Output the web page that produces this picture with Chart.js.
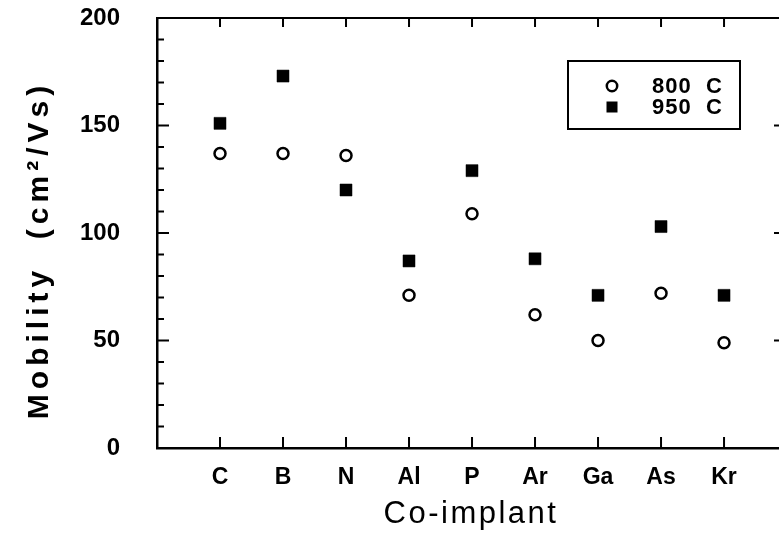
<!DOCTYPE html>
<html>
<head>
<meta charset="utf-8">
<script src="https://cdn.jsdelivr.net/npm/chart.js@4/dist/chart.umd.min.js"></script>
<style>
  html, body { margin: 0; padding: 0; background: #fff; overflow: hidden; }
  #wrap { width: 779px; height: 542px; overflow: hidden; position: relative; }
  canvas { display: block; }
</style>
</head>
<body>
<div id="wrap"><canvas id="chart" width="786" height="542"></canvas></div>
<script>
// Hall mobility after co-implantation, two anneal temperatures
const categories = ['C', 'B', 'N', 'Al', 'P', 'Ar', 'Ga', 'As', 'Kr'];
const mobility800 = [137, 137, 136, 71, 109, 62, 50, 72, 49];
const mobility950 = [151, 173, 120, 87, 129, 88, 71, 103, 71];
const yTickValues = [0, 50, 100, 150, 200];
const seriesLabels = ['800  C', '950  C'];

const FONT = "'Liberation Sans', Arial, Helvetica, sans-serif";
const X_MAX = 9.92;

const toPoints = vals => vals.map((v, i) => ({ x: i + 1, y: v }));

// fixed axis box sizes so the plot frame sits where it should
const fixBox = (size) => s => {
  if (s.isHorizontal()) s.height = size; else s.width = size;
  s.paddingTop = 0; s.paddingBottom = 0; s.paddingLeft = 0; s.paddingRight = 0;
};

// Inward tick marks on all four sides, axis titles and the boxed key
const framePlugin = {
  id: 'frame',
  afterDraw(chart) {
    const ctx = chart.ctx;
    const a = chart.chartArea;
    const x = chart.scales.x;
    const y = chart.scales.y;
    ctx.save();
    ctx.strokeStyle = '#000';
    ctx.lineCap = 'butt';

    // left axis: minor every 10, major every 50
    ctx.lineWidth = 2;
    for (let v = 0; v <= 200; v += 10) {
      const py = y.getPixelForValue(v);
      const len = v % 50 === 0 ? 12 : 7;
      ctx.beginPath();
      ctx.moveTo(a.left, py);
      ctx.lineTo(a.left + len, py);
      ctx.stroke();
    }
    // right axis: major only
    yTickValues.forEach(v => {
      if (v === 0 || v === 200) return;
      const py = y.getPixelForValue(v);
      ctx.beginPath();
      ctx.moveTo(a.right, py);
      ctx.lineTo(a.right - 8, py);
      ctx.stroke();
    });
    // bottom and top axes: one tick per co-implant
    categories.forEach((c, i) => {
      const px = x.getPixelForValue(i + 1);
      ctx.beginPath();
      ctx.moveTo(px, a.bottom);
      ctx.lineTo(px, a.bottom - 11);
      ctx.moveTo(px, a.top);
      ctx.lineTo(px, a.top + 9);
      ctx.stroke();
    });

    // key
    const bx = 568, by = 61, bw = 172, bh = 68;
    ctx.lineWidth = 2;
    ctx.strokeRect(bx, by, bw, bh);
    const rows = [86, 107];
    chart.data.datasets.forEach((ds, i) => {
      const cy = rows[i];
      const cx = 612;
      ctx.beginPath();
      if (ds.pointStyle === 'circle') {
        ctx.lineWidth = 2.5;
        ctx.fillStyle = '#fff';
        ctx.arc(cx, cy, 5.2, 0, Math.PI * 2);
        ctx.fill();
        ctx.stroke();
      } else {
        ctx.fillStyle = '#000';
        ctx.fillRect(cx - 5.5, cy - 5.5, 11, 11);
      }
      ctx.fillStyle = '#000';
      ctx.font = `bold 22px ${FONT}`;
      ctx.letterSpacing = '1px';
      ctx.textAlign = 'left';
      ctx.textBaseline = 'middle';
      ctx.fillText(ds.label, 652, cy + 1);
    });

    // axis titles
    ctx.fillStyle = '#000';
    ctx.textAlign = 'center';
    ctx.textBaseline = 'middle';
    ctx.font = `31px ${FONT}`;
    ctx.letterSpacing = '2.5px';
    ctx.fillText('Co-implant', 471, 514);

    ctx.save();
    ctx.translate(40, 250);
    ctx.rotate(-Math.PI / 2);
    ctx.font = `bold 30px ${FONT}`;
    ctx.letterSpacing = '5px';
    ctx.fillText('Mobility  (cm\u00B2/Vs)', 0, 0);
    ctx.restore();

    ctx.restore();
  }
};

new Chart(document.getElementById('chart'), {
  type: 'scatter',
  data: {
    datasets: [
      {
        label: seriesLabels[0],
        data: toPoints(mobility800),
        pointStyle: 'circle',
        pointRadius: 5.5,
        pointHoverRadius: 5.5,
        pointBorderWidth: 2.5,
        pointBackgroundColor: '#fff',
        pointBorderColor: '#000'
      },
      {
        label: seriesLabels[1],
        data: toPoints(mobility950),
        pointStyle: 'rect',
        pointRadius: 8.5,
        pointHoverRadius: 8.5,
        pointBorderWidth: 0.5,
        pointBackgroundColor: '#000',
        pointBorderColor: '#000'
      }
    ]
  },
  options: {
    responsive: false,
    animation: false,
    layout: { padding: 0, autoPadding: false },
    plugins: {
      legend: { display: false },
      tooltip: { enabled: false }
    },
    scales: {
      x: {
        type: 'linear',
        position: 'bottom',
        min: 0,
        max: X_MAX,
        afterFit: fixBox(94),
        afterBuildTicks: s => { s.ticks = categories.map((c, i) => ({ value: i + 1 })); },
        ticks: {
          autoSkip: false,
          maxRotation: 0,
          padding: 8,
          color: '#000',
          font: { family: FONT, size: 23, weight: 'bold' },
          callback: v => categories[v - 1] || ''
        },
        grid: { display: false },
        border: { display: true, color: '#000', width: 2.5 }
      },
      xTop: {
        type: 'linear',
        position: 'top',
        min: 0,
        max: X_MAX,
        afterFit: fixBox(18),
        ticks: { display: false },
        grid: { display: false },
        border: { display: true, color: '#000', width: 2 }
      },
      y: {
        type: 'linear',
        position: 'left',
        min: 0,
        max: 200,
        afterFit: fixBox(157),
        afterBuildTicks: s => { s.ticks = yTickValues.map(v => ({ value: v })); },
        ticks: {
          padding: 29,
          color: '#000',
          font: { family: FONT, size: 24, weight: 'bold' }
        },
        grid: { display: false },
        border: { display: true, color: '#000', width: 2.5 }
      },
      yRight: {
        type: 'linear',
        position: 'right',
        min: 0,
        max: 200,
        afterFit: fixBox(4),
        ticks: { display: false },
        grid: { display: false },
        border: { display: true, color: '#000', width: 2 }
      }
    }
  },
  plugins: [framePlugin]
});
</script>
</body>
</html>
